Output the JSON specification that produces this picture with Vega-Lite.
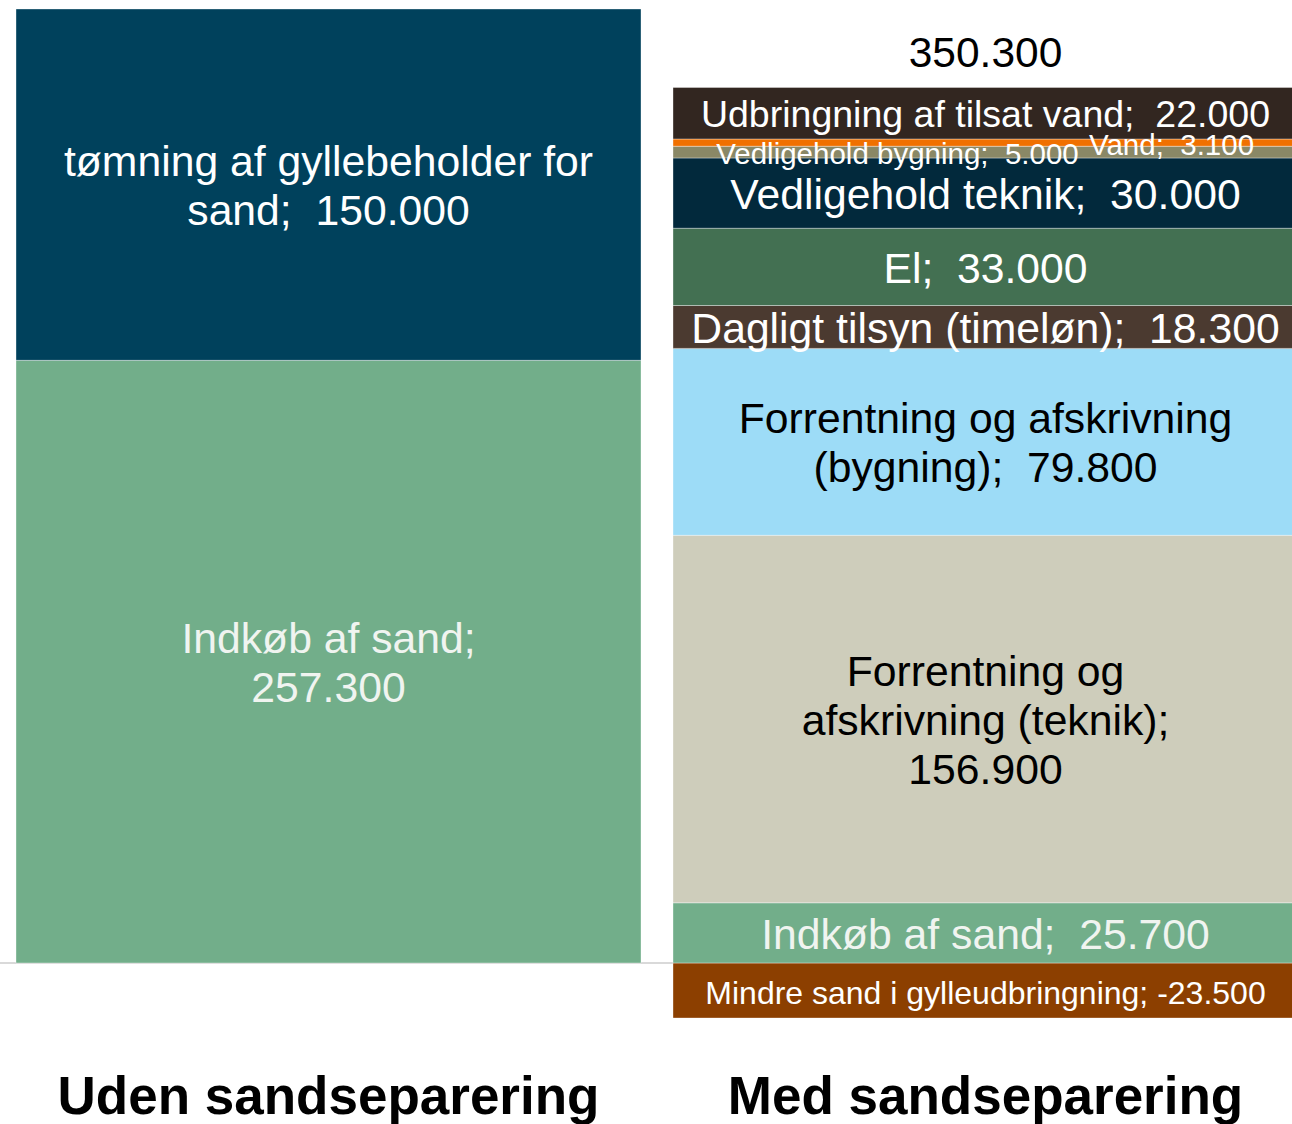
{
  "$schema": "https://vega.github.io/schema/vega-lite/v6.json",
  "width": 1292,
  "height": 1040,
  "autosize": {"type": "none"},
  "padding": {"left": 0, "top": 0, "right": 0, "bottom": 84},
  "background": "white",
  "config": {
    "view": {"stroke": null},
    "font": "Liberation Sans",
    "text": {"font": "Liberation Sans"},
    "locale": {"number": {"decimal": ",", "thousands": ".", "grouping": [3], "currency": ["", " kr."], "minus": "-"}}
  },
  "data": {
    "values": [
      {"bar": "Uden sandseparering", "post": "Indkøb af sand", "value": 257300, "rank": 1, "label": "Indkøb af sand;\n257.300"},
      {"bar": "Uden sandseparering", "post": "tømning af gyllebeholder for sand", "value": 150000, "rank": 2, "label": "tømning af gyllebeholder for\nsand;\u00a0 150.000"},
      {"bar": "Med sandseparering", "post": "Mindre sand i gylleudbringning", "value": -23500, "rank": 0, "label": "Mindre sand i gylleudbringning; -23.500"},
      {"bar": "Med sandseparering", "post": "Indkøb af sand", "value": 25700, "rank": 1, "label": "Indkøb af sand;\u00a0 25.700"},
      {"bar": "Med sandseparering", "post": "Forrentning og afskrivning (teknik)", "value": 156900, "rank": 2, "label": "Forrentning og\nafskrivning (teknik);\n156.900"},
      {"bar": "Med sandseparering", "post": "Forrentning og afskrivning (bygning)", "value": 79800, "rank": 3, "label": "Forrentning og afskrivning\n(bygning);\u00a0 79.800"},
      {"bar": "Med sandseparering", "post": "Dagligt tilsyn (timeløn)", "value": 18300, "rank": 4, "label": "Dagligt tilsyn (timeløn);\u00a0 18.300"},
      {"bar": "Med sandseparering", "post": "El", "value": 33000, "rank": 5, "label": "El;\u00a0 33.000"},
      {"bar": "Med sandseparering", "post": "Vedligehold teknik", "value": 30000, "rank": 6, "label": "Vedligehold teknik;\u00a0 30.000"},
      {"bar": "Med sandseparering", "post": "Vedligehold bygning", "value": 5000, "rank": 7, "label": "Vedligehold bygning;\u00a0 5.000"},
      {"bar": "Med sandseparering", "post": "Vand", "value": 3100, "rank": 8, "label": "Vand;\u00a0 3.100"},
      {"bar": "Med sandseparering", "post": "Udbringning af tilsat vand", "value": 22000, "rank": 9, "label": "Udbringning af tilsat vand;\u00a0 22.000"}
    ]
  },
  "transform": [
    {"stack": "value", "groupby": ["bar"], "sort": [{"field": "rank", "order": "ascending"}], "as": ["v0", "v1"]},
    {"calculate": "(datum.v0 + datum.v1) / 2", "as": "mid"},
    {"joinaggregate": [{"op": "sum", "field": "value", "as": "total"}, {"op": "max", "field": "v1", "as": "top"}], "groupby": ["bar"]}
  ],
  "encoding": {
    "x": {
      "field": "bar",
      "type": "nominal",
      "sort": ["Uden sandseparering", "Med sandseparering"],
      "scale": {"range": [16, 1298], "paddingInner": 0.0487, "paddingOuter": 0},
      "axis": {
        "title": null,
        "labelAngle": 0,
        "domain": false,
        "ticks": false,
        "grid": false,
        "labelPadding": 31,
        "labelFontSize": 53,
        "labelFontWeight": "bold",
        "labelColor": "#000000",
        "labelFont": "Liberation Sans",
        "labelLimit": 0
      }
    }
  },
  "layer": [
    {
      "mark": {"type": "rule", "color": "#D9D9D9", "strokeWidth": 2},
      "encoding": {"x": null, "y": {"datum": 0, "type": "quantitative", "scale": {"domain": [-32874, 411134], "nice": false, "zero": false}, "axis": null}}
    },
    {
      "mark": {"type": "bar", "stroke": "#FFFFFF", "strokeWidth": 0.6, "strokeOpacity": 0.6},
      "encoding": {
        "y": {"field": "v0", "type": "quantitative", "scale": {"domain": [-32874, 411134], "nice": false, "zero": false}, "axis": null},
        "y2": {"field": "v1"},
        "color": {
          "field": "post",
          "type": "nominal",
          "legend": null,
          "scale": {
            "domain": ["Indkøb af sand", "tømning af gyllebeholder for sand", "Mindre sand i gylleudbringning", "Forrentning og afskrivning (teknik)", "Forrentning og afskrivning (bygning)", "Dagligt tilsyn (timeløn)", "El", "Vedligehold teknik", "Vedligehold bygning", "Vand", "Udbringning af tilsat vand"],
            "range": ["#72AE8A", "#00415C", "#8C3F00", "#CECDBB", "#9DDCF7", "#4B3A30", "#437052", "#02293C", "#8A8866", "#F07000", "#322620"]
          }
        }
      }
    },
    {
      "transform": [{"filter": "datum.bar == 'Med sandseparering' && (datum.rank == 1 || (datum.rank >= 4 && datum.rank <= 6))"}],
      "mark": {"type": "text", "fontSize": 42.7, "baseline": "middle", "align": "center", "dy": 3},
      "encoding": {
        "y": {"field": "mid", "type": "quantitative"},
        "text": {"field": "label"},
        "color": {
          "condition": [
            {"test": "datum.post == 'Indkøb af sand'", "value": "#F0F4F0"}
          ],
          "value": "#FFFFFF"
        }
      }
    },
    {
      "transform": [{"filter": "datum.bar == 'Uden sandseparering' || datum.rank == 3"}],
      "mark": {"type": "text", "fontSize": 42.7, "lineBreak": "\n", "lineHeight": 49, "baseline": "middle", "align": "center", "dy": -21.5},
      "encoding": {
        "y": {"field": "mid", "type": "quantitative"},
        "text": {"field": "label"},
        "color": {
          "condition": [
            {"test": "indexof(datum.post, 'Forrentning') == 0", "value": "#000000"},
            {"test": "datum.post == 'Indkøb af sand'", "value": "#F0F4F0"}
          ],
          "value": "#FFFFFF"
        }
      }
    },
    {
      "transform": [{"filter": "datum.bar == 'Med sandseparering' && datum.rank == 2"}],
      "mark": {"type": "text", "fontSize": 42.7, "lineBreak": "\n", "lineHeight": 49, "baseline": "middle", "align": "center", "dy": -46, "color": "#000000"},
      "encoding": {
        "y": {"field": "mid", "type": "quantitative"},
        "text": {"field": "label"}
      }
    },
    {
      "transform": [{"filter": "datum.rank == 0"}],
      "mark": {"type": "text", "fontSize": 32, "baseline": "middle", "align": "center", "color": "#FFFFFF", "dy": 3},
      "encoding": {"y": {"field": "mid", "type": "quantitative"}, "text": {"field": "label"}}
    },
    {
      "transform": [{"filter": "datum.rank == 9"}],
      "mark": {"type": "text", "fontSize": 37.5, "baseline": "middle", "align": "center", "color": "#FFFFFF", "dy": 3},
      "encoding": {"y": {"field": "mid", "type": "quantitative"}, "text": {"field": "label"}}
    },
    {
      "transform": [{"filter": "datum.rank == 7"}],
      "mark": {"type": "text", "fontSize": 29.5, "baseline": "middle", "align": "center", "color": "#FFFFFF", "dx": -88, "dy": 3},
      "encoding": {"y": {"field": "mid", "type": "quantitative"}, "text": {"field": "label"}}
    },
    {
      "transform": [{"filter": "datum.rank == 8"}],
      "mark": {"type": "text", "fontSize": 29.5, "baseline": "middle", "align": "center", "color": "#FFFFFF", "dx": 186, "dy": 3},
      "encoding": {"y": {"field": "mid", "type": "quantitative"}, "text": {"field": "label"}}
    },
    {
      "transform": [{"filter": "datum.bar == 'Med sandseparering' && datum.rank == 9"}],
      "mark": {"type": "text", "fontSize": 42.5, "baseline": "middle", "align": "center", "color": "#000000", "dy": -33},
      "encoding": {"y": {"field": "top", "type": "quantitative"}, "text": {"field": "total", "type": "quantitative", "format": ",d"}}
    }
  ]
}
